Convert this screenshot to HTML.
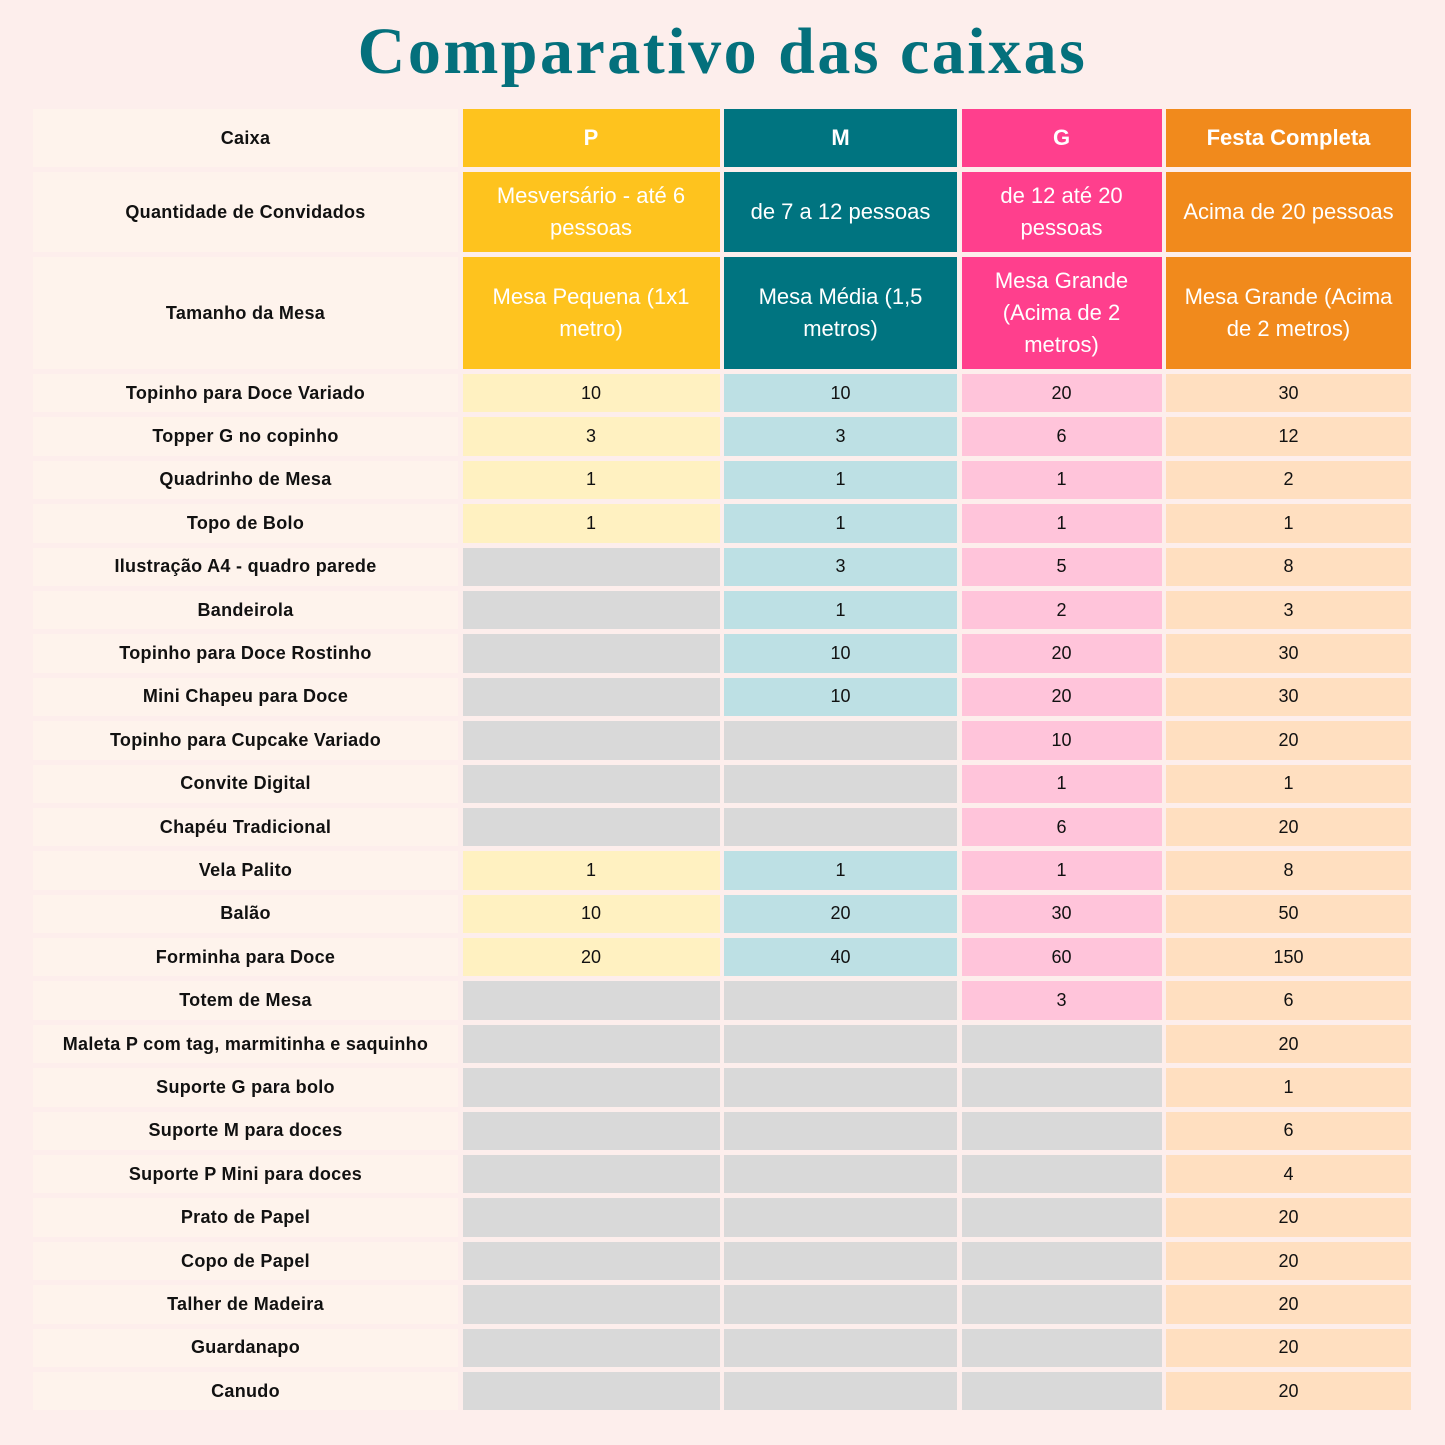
<!DOCTYPE html><html><head><meta charset="utf-8"><style>
body{margin:0;width:1445px;height:1445px;background:#fdeeec;font-family:"Liberation Sans",sans-serif;overflow:hidden}
h1{position:absolute;top:14px;left:0;width:1445px;margin:0;text-align:center;font-family:"Liberation Serif",serif;font-weight:bold;font-size:66px;color:#04707c;letter-spacing:2.5px}
.g{position:absolute;left:33px;top:109px;display:grid;grid-template-columns:425px 257px 233px 200px 245px;column-gap:4.5px;row-gap:5px;grid-template-rows:58px 80px 112px repeat(24,38.4px)}
.g div{display:flex;align-items:center;justify-content:center;text-align:center;font-size:18px;color:#111}
.l{background:#fef3ec;font-weight:bold;letter-spacing:0.3px}
.P{background:#fec31e}.M{background:#007480}.G{background:#ff3f8d}.F{background:#f18a1c}
.h{color:#fff!important;font-size:22px!important;line-height:1.45;padding:0 4px}
.b{font-weight:bold}
.p{background:#fff1c1}.m{background:#bde0e4}.q{background:#ffc4da}.f{background:#ffdfc0}.x{background:#d9d9d9}
</style></head><body>
<h1>Comparativo das caixas</h1>
<div class="g">
<div class="l">Caixa</div><div class="P h b">P</div><div class="M h b">M</div><div class="G h b">G</div><div class="F h b">Festa Completa</div>
<div class="l">Quantidade de Convidados</div><div class="P h">Mesversário - até 6 pessoas</div><div class="M h">de 7 a 12 pessoas</div><div class="G h">de 12 até 20 pessoas</div><div class="F h">Acima de 20 pessoas</div>
<div class="l">Tamanho da Mesa</div><div class="P h">Mesa Pequena (1x1 metro)</div><div class="M h">Mesa Média (1,5 metros)</div><div class="G h">Mesa Grande (Acima de 2 metros)</div><div class="F h">Mesa Grande (Acima de 2 metros)</div>
<div class="l">Topinho para Doce Variado</div><div class="p">10</div><div class="m">10</div><div class="q">20</div><div class="f">30</div>
<div class="l">Topper G no copinho</div><div class="p">3</div><div class="m">3</div><div class="q">6</div><div class="f">12</div>
<div class="l">Quadrinho de Mesa</div><div class="p">1</div><div class="m">1</div><div class="q">1</div><div class="f">2</div>
<div class="l">Topo de Bolo</div><div class="p">1</div><div class="m">1</div><div class="q">1</div><div class="f">1</div>
<div class="l">Ilustração A4 - quadro parede</div><div class="x"></div><div class="m">3</div><div class="q">5</div><div class="f">8</div>
<div class="l">Bandeirola</div><div class="x"></div><div class="m">1</div><div class="q">2</div><div class="f">3</div>
<div class="l">Topinho para Doce Rostinho</div><div class="x"></div><div class="m">10</div><div class="q">20</div><div class="f">30</div>
<div class="l">Mini Chapeu para Doce</div><div class="x"></div><div class="m">10</div><div class="q">20</div><div class="f">30</div>
<div class="l">Topinho para Cupcake Variado</div><div class="x"></div><div class="x"></div><div class="q">10</div><div class="f">20</div>
<div class="l">Convite Digital</div><div class="x"></div><div class="x"></div><div class="q">1</div><div class="f">1</div>
<div class="l">Chapéu Tradicional</div><div class="x"></div><div class="x"></div><div class="q">6</div><div class="f">20</div>
<div class="l">Vela Palito</div><div class="p">1</div><div class="m">1</div><div class="q">1</div><div class="f">8</div>
<div class="l">Balão</div><div class="p">10</div><div class="m">20</div><div class="q">30</div><div class="f">50</div>
<div class="l">Forminha para Doce</div><div class="p">20</div><div class="m">40</div><div class="q">60</div><div class="f">150</div>
<div class="l">Totem de Mesa</div><div class="x"></div><div class="x"></div><div class="q">3</div><div class="f">6</div>
<div class="l">Maleta P com tag, marmitinha e saquinho</div><div class="x"></div><div class="x"></div><div class="x"></div><div class="f">20</div>
<div class="l">Suporte G para bolo</div><div class="x"></div><div class="x"></div><div class="x"></div><div class="f">1</div>
<div class="l">Suporte M para doces</div><div class="x"></div><div class="x"></div><div class="x"></div><div class="f">6</div>
<div class="l">Suporte P Mini para doces</div><div class="x"></div><div class="x"></div><div class="x"></div><div class="f">4</div>
<div class="l">Prato de Papel</div><div class="x"></div><div class="x"></div><div class="x"></div><div class="f">20</div>
<div class="l">Copo de Papel</div><div class="x"></div><div class="x"></div><div class="x"></div><div class="f">20</div>
<div class="l">Talher de Madeira</div><div class="x"></div><div class="x"></div><div class="x"></div><div class="f">20</div>
<div class="l">Guardanapo</div><div class="x"></div><div class="x"></div><div class="x"></div><div class="f">20</div>
<div class="l">Canudo</div><div class="x"></div><div class="x"></div><div class="x"></div><div class="f">20</div>
</div>
</body></html>
